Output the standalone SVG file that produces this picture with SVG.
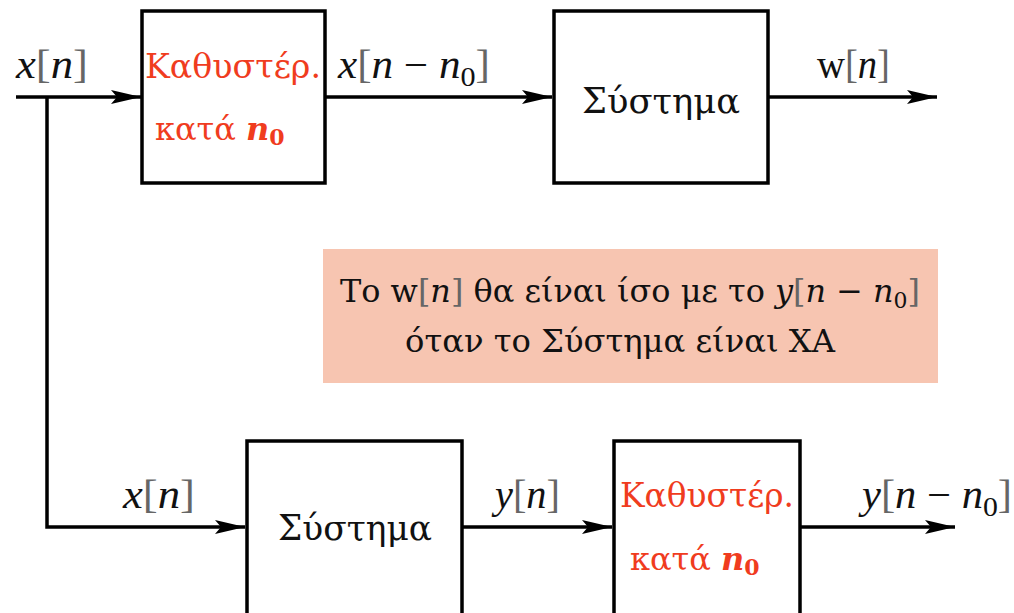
<svg xmlns="http://www.w3.org/2000/svg" width="1014" height="613" viewBox="0 0 1014 613">
<defs>
<style>
.box{fill:#fff;stroke:#000;stroke-width:3.5}
.wire{fill:none;stroke:#000;stroke-width:3.5}
.t{font-family:"DejaVu Serif","Liberation Serif",serif;fill:#111}
.l{font-family:"Liberation Serif","DejaVu Serif",serif;fill:#111}
.red{font-family:"DejaVu Serif","Liberation Serif",serif;fill:#f03c1e}
.i{font-style:italic}
.br{fill:#666}
</style>
<marker id="ah" viewBox="0 0 30 14" refX="30" refY="7" markerWidth="30" markerHeight="14" markerUnits="userSpaceOnUse" orient="auto">
<path d="M0,0 L30,7 L0,14 L6,7 z" fill="#000"/>
</marker>
</defs>
<rect width="1014" height="613" fill="#fff"/>
<g id="connectors">
<line class="wire" x1="16" y1="97" x2="141" y2="97" marker-end="url(#ah)"/>
<polyline class="wire" points="47,97 47,527 245,527" marker-end="url(#ah)"/>
<line class="wire" x1="325" y1="97" x2="552" y2="97" marker-end="url(#ah)"/>
<line class="wire" x1="768" y1="97" x2="937" y2="97" marker-end="url(#ah)"/>
<line class="wire" x1="462" y1="527" x2="612" y2="527" marker-end="url(#ah)"/>
<line class="wire" x1="800" y1="527" x2="955" y2="527" marker-end="url(#ah)"/>
</g>
<g id="delay1">
<rect class="box" x="142" y="11" width="183" height="172"/>
<text class="red" x="145" y="78" font-size="34" textLength="176" lengthAdjust="spacingAndGlyphs">Καθυστέρ.</text>
<text class="red" x="155" y="140" font-size="32">κατά <tspan class="i" font-weight="bold">n</tspan><tspan font-size="22" dy="5" font-weight="bold">0</tspan></text>
</g>
<g id="system1">
<rect class="box" x="554" y="11" width="214" height="172"/>
<text class="t" x="661" y="113" font-size="36" text-anchor="middle" textLength="158" lengthAdjust="spacingAndGlyphs">Σύστημα</text>
</g>
<g id="note">
<rect x="323" y="249" width="615" height="134" fill="#f7c5b1"/>
<text class="t" x="630" y="302" font-size="32" text-anchor="middle" textLength="580" lengthAdjust="spacingAndGlyphs">Το w<tspan class="br">[</tspan><tspan class="i">n</tspan><tspan class="br">]</tspan>  θα είναι ίσο με το <tspan class="i">y</tspan><tspan class="br">[</tspan><tspan class="i">n</tspan> − <tspan class="i">n</tspan><tspan font-size="22" dy="6">0</tspan><tspan class="br" dy="-6">]</tspan></text>
<text class="t" x="620" y="352" font-size="32" text-anchor="middle" textLength="430" lengthAdjust="spacingAndGlyphs">όταν το Σύστημα είναι ΧΑ</text>
</g>
<g id="system2">
<rect class="box" x="247" y="441" width="215" height="200"/>
<text class="t" x="355" y="540" font-size="36" text-anchor="middle" textLength="154" lengthAdjust="spacingAndGlyphs">Σύστημα</text>
</g>
<g id="delay2">
<rect class="box" x="614" y="441" width="186" height="200"/>
<text class="red" x="620" y="507" font-size="34" textLength="174" lengthAdjust="spacingAndGlyphs">Καθυστέρ.</text>
<text class="red" x="630" y="570" font-size="32">κατά <tspan class="i" font-weight="bold">n</tspan><tspan font-size="22" dy="5" font-weight="bold">0</tspan></text>
</g>
<g id="labels">
<text class="l" x="16" y="78" font-size="40" textLength="72" lengthAdjust="spacingAndGlyphs"><tspan class="i">x</tspan><tspan class="br">[</tspan><tspan class="i">n</tspan><tspan class="br">]</tspan></text>
<text class="l" x="338" y="78" font-size="40" textLength="152" lengthAdjust="spacingAndGlyphs"><tspan class="i">x</tspan><tspan class="br">[</tspan><tspan class="i">n</tspan> − <tspan class="i">n</tspan><tspan font-size="28" dy="8">0</tspan><tspan class="br" dy="-8">]</tspan></text>
<text class="l" x="817" y="78" font-size="40" textLength="73" lengthAdjust="spacingAndGlyphs">w<tspan class="br">[</tspan><tspan class="i">n</tspan><tspan class="br">]</tspan></text>
<text class="l" x="123" y="508" font-size="40" textLength="72" lengthAdjust="spacingAndGlyphs"><tspan class="i">x</tspan><tspan class="br">[</tspan><tspan class="i">n</tspan><tspan class="br">]</tspan></text>
<text class="l" x="495" y="508" font-size="40" textLength="65" lengthAdjust="spacingAndGlyphs"><tspan class="i">y</tspan><tspan class="br">[</tspan><tspan class="i">n</tspan><tspan class="br">]</tspan></text>
<text class="l" x="862" y="508" font-size="40" textLength="150" lengthAdjust="spacingAndGlyphs"><tspan class="i">y</tspan><tspan class="br">[</tspan><tspan class="i">n</tspan> − <tspan class="i">n</tspan><tspan font-size="28" dy="8">0</tspan><tspan class="br" dy="-8">]</tspan></text>
</g>
</svg>
